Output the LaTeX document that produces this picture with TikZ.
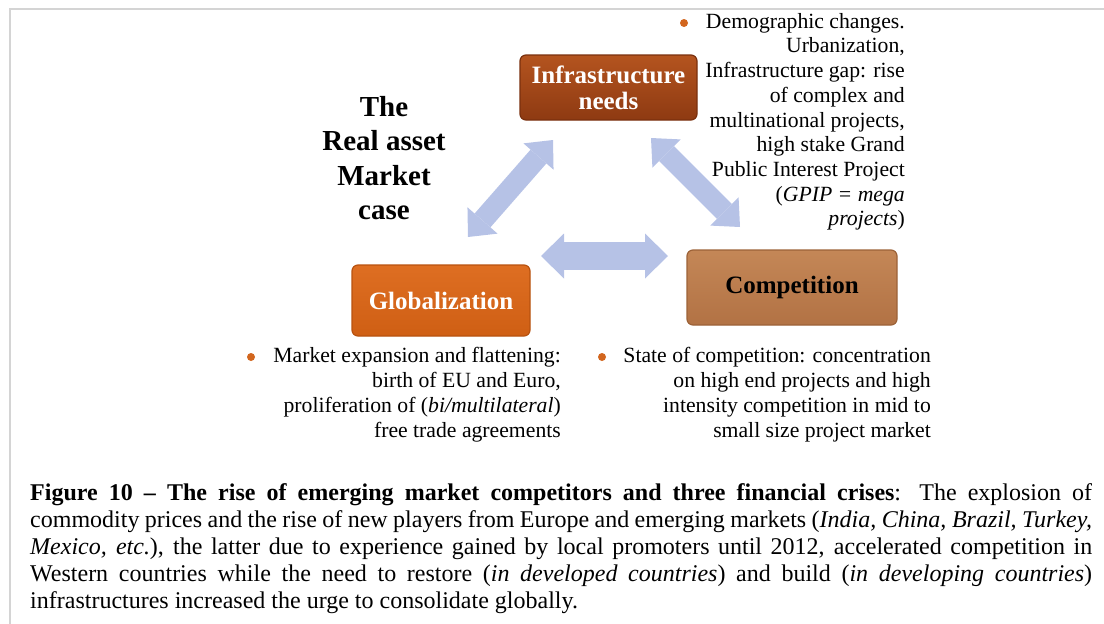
\documentclass[tikz,border=0pt]{standalone}
\usepackage{fontspec}
\setmainfont{Liberation Serif}
\usetikzlibrary{arrows.meta}
\definecolor{framegray}{HTML}{D4D4D4}
\definecolor{arrowblue}{HTML}{B6C2E6}
\definecolor{bulletorange}{HTML}{D2661E}
\definecolor{infratop}{HTML}{B4541F}
\definecolor{infrabot}{HTML}{8E3A12}
\definecolor{infraedge}{HTML}{7A300E}
\definecolor{globtop}{HTML}{DE6E22}
\definecolor{globbot}{HTML}{CF5F14}
\definecolor{globedge}{HTML}{B8520F}
\definecolor{comptop}{HTML}{C48757}
\definecolor{compbot}{HTML}{B27244}
\definecolor{compedge}{HTML}{9C6238}
\tikzset{
  box/.style={rounded corners=6pt, line width=1.2pt, align=center, inner sep=0pt,
    font=\fontsize{25}{26}\selectfont\bfseries},
  bullettext/.style={anchor=north east, inner sep=0pt, align=right,
    font=\fontsize{21.7}{25}\selectfont},
  dot/.style={circle, fill=bulletorange, inner sep=0pt, minimum size=8pt},
  diagarrow/.style={draw=arrowblue, line width=21pt,
    {Triangle[length=22pt,width=40pt,line width=0pt]}-{Triangle[length=22pt,width=40pt,line width=0pt]}},
  horarrow/.style={draw=arrowblue, line width=28pt,
    {Triangle[length=23pt,width=45pt,line width=0pt]}-{Triangle[length=23pt,width=45pt,line width=0pt]}}
}
\begin{document}
\begin{tikzpicture}[x=1pt,y=-1pt]
\useasboundingbox (0,0) rectangle (1104,624);
\draw[framegray, line width=2pt] (1104,9) -- (10,9) -- (10,624);

% title
\node[align=center, inner sep=0pt, font=\fontsize{29}{34.5}\selectfont\bfseries] (title) at (384,158)
  {The\\Real asset\\Market\\case};

% boxes
\node[box, draw=infraedge, top color=infratop, bottom color=infrabot, text=white,
  minimum width=177pt, minimum height=65pt] (infra) at (608.5,87.5) {Infrastructure\\needs};
\node[box, draw=globedge, top color=globtop, bottom color=globbot, text=white,
  minimum width=178pt, minimum height=71pt] (glob) at (441,300.5) {Globalization};
\node[box, draw=compedge, top color=comptop, bottom color=compbot, text=black,
  minimum width=210pt, minimum height=75pt] (comp) at (792,287.5) {Competition};

% arrows
\coordinate (la) at (468,237);
\coordinate (lb) at (553,140);
\coordinate (ra) at (651,138);
\coordinate (rb) at (740,227);
\coordinate (ha) at (541,256);
\coordinate (hb) at (668,256);
\draw[diagarrow] (la) -- (lb);
\draw[diagarrow] (ra) -- (rb);
\draw[horarrow] (ha) -- (hb);

% bullets
\node[dot] (d1) at (684,23) {};
\node[bullettext, font=\fontsize{21.7}{24.7}\selectfont] (t1) at (905,13)
  {Demographic changes.\\Urbanization,\\Infrastructure gap: rise\\of complex and\\multinational projects,\\high stake Grand\\Public Interest Project\\(\textit{GPIP = mega}\\\textit{projects})};
\node[dot] (d2) at (251,357) {};
\node[bullettext] (t2) at (561,347)
  {Market expansion and flattening:\\birth of EU and Euro,\\proliferation of (\textit{bi/multilateral})\\free trade agreements};
\node[dot] (d3) at (602,357) {};
\node[bullettext] (t3) at (931,347)
  {State of competition: concentration\\on high end projects and high\\intensity competition in mid to\\small size project market};

% caption
\node[anchor=north west, inner sep=0pt, text width=1062pt, align=justify,
  font=\fontsize{24}{27}\selectfont] (cap) at (30,483)
  {\textbf{Figure 10 -- The rise of emerging market competitors and three financial crises}: The explosion of\linebreak
  commodity prices and the rise of new players from Europe and emerging markets (\textit{India, China, Brazil, Turkey,}\linebreak
  \textit{Mexico, etc.}), the latter due to experience gained by local promoters until 2012, accelerated competition in\linebreak
  Western countries while the need to restore (\textit{in developed countries}) and build (\textit{in developing countries})\linebreak
  infrastructures increased the urge to consolidate globally.};
\end{tikzpicture}
\end{document}
